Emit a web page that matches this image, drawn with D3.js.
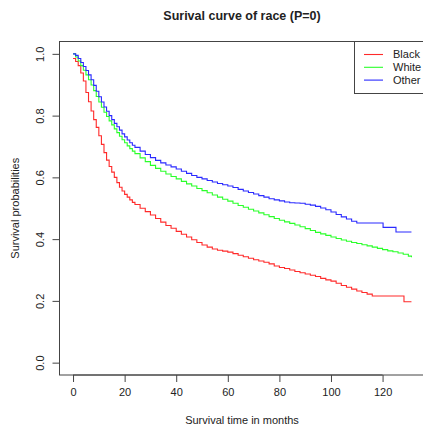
<!DOCTYPE html>
<html lang="en">
<head>
    <meta charset="UTF-8">
    <title>Surival curve of race</title>
    <script src="https://d3js.org/d3.v7.min.js"></script>
    <style>
        body { margin: 0; background: #fff; }
        svg { display: block; font-family: "Liberation Sans", Arial, sans-serif; }
    </style>
</head>
<body>
<svg id="chart" width="423" height="427"></svg>
<script>
    // Kaplan-Meier estimates (months, survival)
    const blackTime = [0,1,2,3,4,5,6,7,8,9,10,11,12,13,14,15,16,17,18,19,20,21,22,23,24,26,28,30,32,34,36,38,40,42,44,46,48,50,52,54,56,58,60,62,64,66,68,70,72,74,76,78,80,82,84,86,88,90,92,94,96,98,100,102,104,106,108,110,112,114,116,128.3,131.2];
    const blackSurv = [0.985,0.975,0.962,0.938,0.912,0.875,0.845,0.815,0.787,0.762,0.735,0.707,0.68,0.656,0.635,0.617,0.6,0.583,0.568,0.556,0.545,0.536,0.527,0.519,0.512,0.5,0.489,0.478,0.467,0.455,0.444,0.435,0.425,0.416,0.407,0.398,0.389,0.381,0.374,0.368,0.364,0.361,0.358,0.353,0.348,0.343,0.338,0.333,0.329,0.325,0.32,0.313,0.308,0.305,0.3,0.295,0.291,0.287,0.283,0.279,0.273,0.268,0.264,0.257,0.25,0.244,0.238,0.232,0.227,0.222,0.216,0.197,0.197];

    const whiteTime = [0,1,2,3,4,5,6,7,8,9,10,11,12,13,14,15,16,17,18,19,20,21,22,23,24,26,28,30,32,34,36,38,40,42,44,46,48,50,52,54,56,58,60,62,64,66,68,70,72,74,76,78,80,82,84,86,88,90,92,94,96,98,100,102,104,106,108,110,112,114,116,118,120,122,124,126,128,130,131.2];
    const whiteSurv = [1.0,0.99,0.977,0.962,0.947,0.932,0.916,0.899,0.881,0.862,0.844,0.827,0.811,0.797,0.783,0.77,0.757,0.745,0.733,0.722,0.712,0.702,0.693,0.685,0.677,0.663,0.651,0.639,0.629,0.62,0.611,0.603,0.595,0.587,0.579,0.572,0.564,0.557,0.55,0.543,0.536,0.529,0.523,0.516,0.509,0.503,0.497,0.491,0.485,0.479,0.473,0.467,0.461,0.456,0.451,0.446,0.44,0.434,0.428,0.422,0.417,0.412,0.407,0.402,0.397,0.393,0.389,0.386,0.382,0.378,0.374,0.37,0.366,0.362,0.359,0.355,0.351,0.345,0.341];

    const otherTime = [0,1,2,3,4,5,6,7,8,9,10,11,12,13,14,15,16,17,18,19,20,21,22,23,24,26,28,30,32,34,36,38,40,42,44,46,48,50,52,54,56,58,60,62,64,66,68,70,72,74,76,78,80,82,84,86,88,90,92,94,96,98,100,102,104,106,108,110,120.2,125.2,131.2];
    const otherSurv = [1.0,0.995,0.985,0.972,0.959,0.946,0.932,0.916,0.898,0.879,0.861,0.844,0.828,0.814,0.8,0.787,0.775,0.764,0.753,0.741,0.731,0.721,0.712,0.704,0.697,0.685,0.674,0.664,0.655,0.647,0.64,0.634,0.627,0.62,0.613,0.606,0.6,0.595,0.59,0.585,0.58,0.576,0.572,0.567,0.561,0.556,0.551,0.546,0.541,0.536,0.531,0.527,0.524,0.52,0.518,0.517,0.516,0.513,0.51,0.506,0.501,0.495,0.488,0.48,0.472,0.465,0.458,0.452,0.438,0.423,0.423];

    const groups = ['Black', 'White', 'Other'];
    const colors = ['#ff2a2a', '#2aff2a', '#2a2aff'];
    const xTicks = [0, 20, 40, 60, 80, 100, 120];
    const yTicks = [0, 0.2, 0.4, 0.6, 0.8, 1.0];

    const series = [
        { name: groups[0], color: colors[0], pts: d3.zip(blackTime, blackSurv) },
        { name: groups[1], color: colors[1], pts: d3.zip(whiteTime, whiteSurv) },
        { name: groups[2], color: colors[2], pts: d3.zip(otherTime, otherSurv) }
    ];

    const svg = d3.select('#chart');
    const box = { left: 59.5, right: 425, top: 41.5, bottom: 375 };
    const ink = '#444';

    // R style: data range padded by 4% on each side
    const x = d3.scaleLinear().domain([-5.25, 136.45]).range([box.left, box.right]);
    const y = d3.scaleLinear().domain([-0.04, 1.04]).range([box.bottom, box.top]);

    // title
    svg.append('text')
        .attr('x', 242).attr('y', 20)
        .attr('text-anchor', 'middle')
        .attr('font-size', 12.5).attr('font-weight', 'bold')
        .attr('fill', '#222')
        .text('Surival curve of race (P=0)');

    // curves
    const line = d3.line()
        .x(d => x(d[0]))
        .y(d => y(d[1]))
        .curve(d3.curveStepAfter);

    svg.append('g').selectAll('path')
        .data(series)
        .join('path')
        .attr('d', d => line(d.pts))
        .attr('fill', 'none')
        .attr('stroke', d => d.color)
        .attr('stroke-width', 1.1);

    // frame
    svg.append('rect')
        .attr('x', box.left).attr('y', box.top)
        .attr('width', box.right - box.left).attr('height', box.bottom - box.top)
        .attr('fill', 'none').attr('stroke', ink).attr('stroke-width', 1);

    // x axis
    const xAxis = svg.append('g')
        .attr('transform', `translate(0,${box.bottom})`)
        .call(d3.axisBottom(x).tickValues(xTicks).tickSize(7).tickPadding(6).tickFormat(d3.format('d')));
    xAxis.select('.domain').attr('d', `M${x(0)},0H${x(120)}`).attr('stroke', ink);
    xAxis.selectAll('.tick line').attr('stroke', ink);
    xAxis.selectAll('.tick text')
        .attr('font-size', 11).attr('fill', '#222')
        .attr('font-family', '"Liberation Sans", Arial, sans-serif');

    // y axis, labels parallel to the axis
    const yAxis = svg.append('g')
        .attr('transform', `translate(${box.left},0)`)
        .call(d3.axisLeft(y).tickValues(yTicks).tickSize(7).tickFormat(d3.format('.1f')));
    yAxis.select('.domain').attr('d', `M0,${y(0)}V${y(1)}`).attr('stroke', ink);
    yAxis.selectAll('.tick line').attr('stroke', ink);
    yAxis.selectAll('.tick text')
        .attr('x', null).attr('dy', null)
        .attr('transform', 'translate(-16,0) rotate(-90)')
        .attr('text-anchor', 'middle')
        .attr('font-size', 11).attr('fill', '#222')
        .attr('font-family', '"Liberation Sans", Arial, sans-serif');

    // axis titles
    svg.append('text')
        .attr('x', 242).attr('y', 424)
        .attr('text-anchor', 'middle')
        .attr('font-size', 11).attr('fill', '#222')
        .text('Survival time in months');

    svg.append('text')
        .attr('transform', `translate(19,${(box.top + box.bottom) / 2}) rotate(-90)`)
        .attr('text-anchor', 'middle')
        .attr('font-size', 11).attr('fill', '#222')
        .text('Survival probabilities');

    // legend
    const legend = svg.append('g');
    legend.append('rect')
        .attr('x', 354.5).attr('y', box.top)
        .attr('width', 80).attr('height', 52)
        .attr('fill', '#fff').attr('stroke', ink);

    const rows = legend.selectAll('g.row')
        .data(series)
        .join('g')
        .attr('class', 'row')
        .attr('transform', (d, i) => `translate(0,${54.5 + i * 12.8})`);
    rows.append('line')
        .attr('x1', 364).attr('x2', 383)
        .attr('stroke', d => d.color).attr('stroke-width', 1.1);
    rows.append('text')
        .attr('x', 393).attr('dy', '0.35em')
        .attr('font-size', 11).attr('fill', '#222')
        .text(d => d.name);
</script>
</body>
</html>
